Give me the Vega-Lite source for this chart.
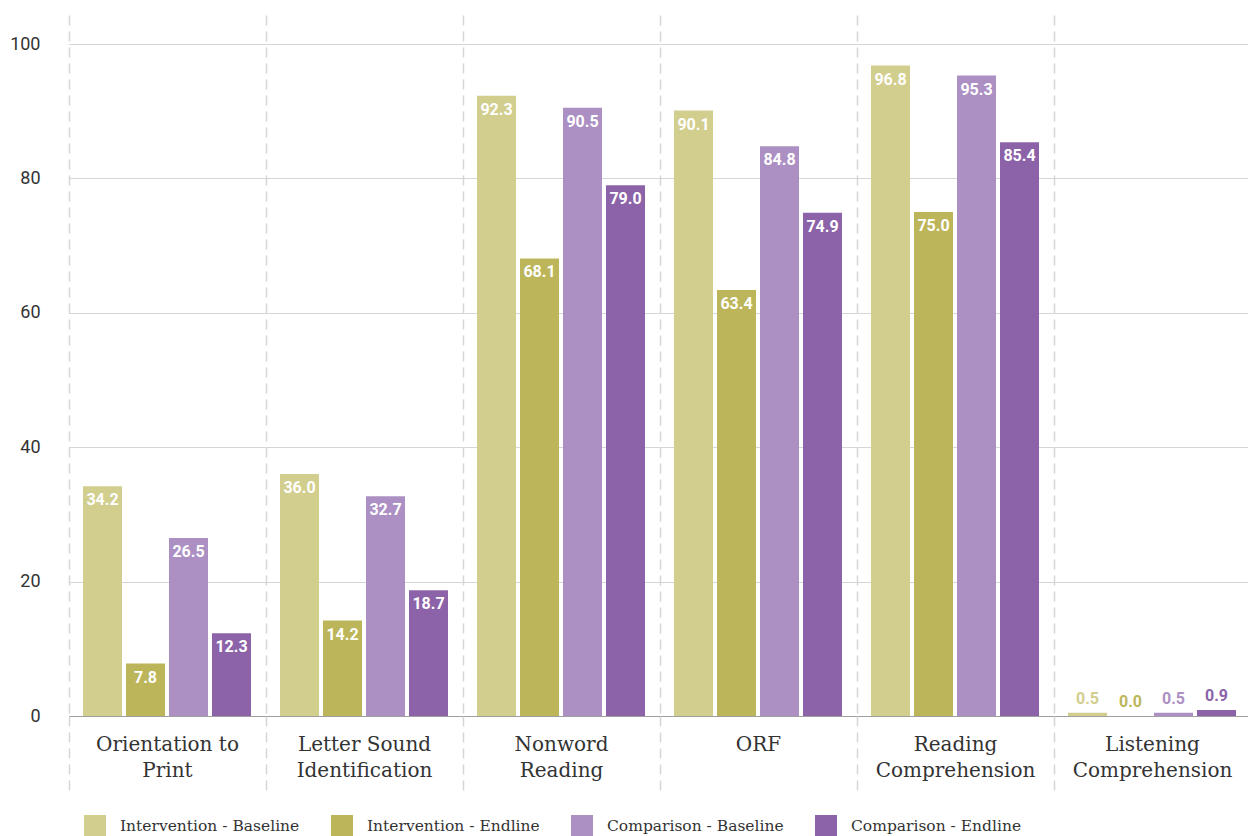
{
  "$schema": "https://vega.github.io/schema/vega-lite/v6.json",
  "autosize": "none",
  "width": 1200,
  "height": 701,
  "padding": {"left": 59, "top": 15, "right": 0, "bottom": 120},
  "background": "white",
  "config": {
    "view": {"stroke": null},
    "font": "DejaVu Serif"
  },
  "data": {
    "values": [
      {"subtest": "Orientation to Print", "group": "Intervention - Baseline", "score": 34.2},
      {"subtest": "Orientation to Print", "group": "Intervention - Endline", "score": 7.8},
      {"subtest": "Orientation to Print", "group": "Comparison - Baseline", "score": 26.5},
      {"subtest": "Orientation to Print", "group": "Comparison - Endline", "score": 12.3},
      {"subtest": "Letter Sound Identification", "group": "Intervention - Baseline", "score": 36.0},
      {"subtest": "Letter Sound Identification", "group": "Intervention - Endline", "score": 14.2},
      {"subtest": "Letter Sound Identification", "group": "Comparison - Baseline", "score": 32.7},
      {"subtest": "Letter Sound Identification", "group": "Comparison - Endline", "score": 18.7},
      {"subtest": "Nonword Reading", "group": "Intervention - Baseline", "score": 92.3},
      {"subtest": "Nonword Reading", "group": "Intervention - Endline", "score": 68.1},
      {"subtest": "Nonword Reading", "group": "Comparison - Baseline", "score": 90.5},
      {"subtest": "Nonword Reading", "group": "Comparison - Endline", "score": 79.0},
      {"subtest": "ORF", "group": "Intervention - Baseline", "score": 90.1},
      {"subtest": "ORF", "group": "Intervention - Endline", "score": 63.4},
      {"subtest": "ORF", "group": "Comparison - Baseline", "score": 84.8},
      {"subtest": "ORF", "group": "Comparison - Endline", "score": 74.9},
      {"subtest": "Reading Comprehension", "group": "Intervention - Baseline", "score": 96.8},
      {"subtest": "Reading Comprehension", "group": "Intervention - Endline", "score": 75.0},
      {"subtest": "Reading Comprehension", "group": "Comparison - Baseline", "score": 95.3},
      {"subtest": "Reading Comprehension", "group": "Comparison - Endline", "score": 85.4},
      {"subtest": "Listening Comprehension", "group": "Intervention - Baseline", "score": 0.5},
      {"subtest": "Listening Comprehension", "group": "Intervention - Endline", "score": 0.0},
      {"subtest": "Listening Comprehension", "group": "Comparison - Baseline", "score": 0.5},
      {"subtest": "Listening Comprehension", "group": "Comparison - Endline", "score": 0.9}
    ]
  },
  "encoding": {
    "x": {
      "field": "subtest",
      "type": "nominal",
      "sort": null,
      "title": null,
      "scale": {"range": [9.5, 1191.5], "paddingInner": 0, "paddingOuter": 0},
      "axis": {
        "domain": false,
        "grid": true,
        "gridDash": [10, 6],
        "gridColor": "#d6d6d6",
        "gridWidth": 1.5,
        "tickBand": "extent",
        "tickSize": 79,
        "tickDash": [10, 6],
        "tickColor": "#d6d6d6",
        "tickWidth": 1.5,
        "labelPadding": -61,
        "labelAngle": 0,
        "labelBaseline": "top",
        "labelFont": "DejaVu Serif",
        "labelFontSize": 20,
        "labelColor": "#333333",
        "labelLineHeight": 26,
        "labelLimit": 0,
        "labelExpr": "datum.value == 'Orientation to Print' ? ['Orientation to', 'Print'] : datum.value == 'Letter Sound Identification' ? ['Letter Sound', 'Identification'] : datum.value == 'Nonword Reading' ? ['Nonword', 'Reading'] : datum.value == 'Reading Comprehension' ? ['Reading', 'Comprehension'] : datum.value == 'Listening Comprehension' ? ['Listening', 'Comprehension'] : datum.value"
      }
    },
    "xOffset": {
      "field": "group",
      "type": "nominal",
      "sort": ["Intervention - Baseline", "Intervention - Endline", "Comparison - Baseline", "Comparison - Endline"],
      "scale": {"paddingInner": 0.093, "paddingOuter": 0.337}
    },
    "y": {
      "field": "score",
      "type": "quantitative",
      "title": null,
      "scale": {"domain": [0, 104.32], "nice": false},
      "axis": {
        "values": [0, 20, 40, 60, 80, 100],
        "domain": false,
        "ticks": false,
        "labelPadding": 19,
        "labelFont": "Roboto",
        "labelFontSize": 18,
        "labelColor": "#333333",
        "gridColor": {"condition": {"test": "datum.value === 0", "value": "#a0a0a0"}, "value": "#d6d6d6"},
        "gridWidth": 1.2
      }
    },
    "color": {
      "field": "group",
      "type": "nominal",
      "title": null,
      "scale": {
        "domain": ["Intervention - Baseline", "Intervention - Endline", "Comparison - Baseline", "Comparison - Endline"],
        "range": ["#d2ce8e", "#bcb55a", "#ac90c3", "#8c63a8"]
      },
      "legend": {
        "orient": "none",
        "legendX": 25,
        "legendY": 800,
        "direction": "horizontal",
        "columns": 4,
        "columnPadding": 31,
        "padding": 0,
        "symbolType": "square",
        "symbolSize": 484,
        "symbolStrokeWidth": 0,
        "symbolOpacity": 1,
        "labelFont": "DejaVu Serif",
        "labelFontSize": 15.5,
        "labelColor": "#333333",
        "labelOffset": 14,
        "labelLimit": 0
      }
    }
  },
  "layer": [
    {"mark": {"type": "bar"}},
    {
      "transform": [{"filter": "datum.score >= 5"}],
      "mark": {"type": "text", "baseline": "middle", "dy": 14, "font": "Roboto", "fontWeight": "bold", "fontSize": 16, "color": "white"},
      "encoding": {
        "text": {"field": "score", "type": "quantitative", "format": ".1f"},
        "color": {"value": "white"}
      }
    },
    {
      "transform": [{"filter": "datum.score < 5"}],
      "mark": {"type": "text", "baseline": "middle", "dy": -14, "font": "Roboto", "fontWeight": "bold", "fontSize": 16},
      "encoding": {
        "text": {"field": "score", "type": "quantitative", "format": ".1f"}
      }
    }
  ]
}
